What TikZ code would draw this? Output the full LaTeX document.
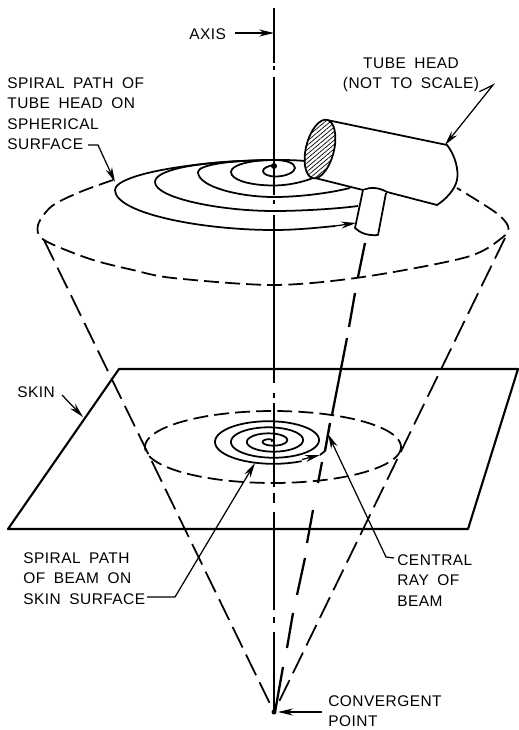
\documentclass[tikz,border=0pt]{standalone}
\usepackage{fontspec}
\setmainfont[LetterSpace=3,WordSpace=1.8]{Liberation Sans}
\usetikzlibrary{arrows.meta,patterns.meta}

\tikzset{
    callout/.style={inner sep=0pt, align=left, font=\fontsize{8.8}{11.7}\selectfont},
    leader/.style={line width=0.7pt, -{Stealth[length=8.5pt,width=4pt]}},
    outline/.style={line width=1pt, line join=round},
    sheet/.style={line width=1.2pt, line join=round},
    conedash/.style={line width=1pt, dash pattern=on 13pt off 4.5pt},
    ringdash/.style={line width=1pt, dash pattern=on 8.5pt off 3.5pt},
}

\begin{document}
\begin{tikzpicture}[x=0.02cm, y=-0.02cm]
    \useasboundingbox (0,0) rectangle (518,730);

    % Points
    \coordinate (apex) at (274,712);
    \coordinate (coneleft) at (44,240);
    \coordinate (coneright) at (505,238);
    \coordinate (skinNW) at (119,369);
    \coordinate (skinNE) at (518,369);
    \coordinate (skinSE) at (468,529);
    \coordinate (skinSW) at (8,529);

    % Axis, broken as a centre line
    \foreach \ya/\yb in {8/63, 66/70, 77/195, 200/204, 215/383, 393/398, 403/487, 493/503, 512/610, 617/623, 632/712}
        \draw[line width=1pt] (274,\ya) -- (274,\yb);

    % Skin
    \draw[sheet] (skinNW) -- (skinNE) -- (skinSE) -- (skinSW) -- cycle;

    % Cone and its two circles
    \draw[conedash] (coneleft) -- (apex);
    \draw[conedash] (coneright) -- (apex);
    \draw[ringdash] plot[smooth] coordinates {(113,180) (80,192) (52,206) (38,225) (44,240) (90,259) (133,270) (173,278) (274,285) (363,277) (467,257) (503,237) (508,226) (495,212) (457,188)};
    \draw[ringdash] plot[domain=0:360, samples=90] ({273+128*cos(\x)}, {447+36*sin(\x)});

    % Central ray
    \foreach \xa/\ya/\xb/\yb in {365/243/358/277, 355/293/349/327, 347/338/332/415, 330/423/325/451, 322/462/318/483, 313/510/307/543, 305/558/297/595, 293/613/287/648, 283/667/275/712}
        \draw[line width=1.3pt] (\xa,\ya) -- (\xb,\yb);

    % Spiral on the sphere
    \draw[outline] (274,165) .. controls (268,166) and (263,168) .. (263,171)
        .. controls (263,174) and (268,176.5) .. (276,176.5)
        .. controls (286,176.5) and (295,172) .. (295,168)
        .. controls (295,163) and (286,160) .. (274,160)
        .. controls (250,160) and (231,165) .. (231,172)
        .. controls (231,180) and (250,185.5) .. (274,185.5)
        .. controls (288,185.5) and (303,182) .. (313,178);
    \draw[outline] (305,161) .. controls (295,160) and (285,160) .. (274,160)
        .. controls (230,160) and (198,165) .. (198,172)
        .. controls (198,187) and (240,197) .. (274,197)
        .. controls (300,197) and (330,193) .. (350,188);
    \draw[outline] (240,161) .. controls (195,163) and (155,170) .. (155,182)
        .. controls (155,198) and (220,211) .. (274,211)
        .. controls (300,211) and (335,209) .. (358,206);
    \draw[outline] (274,160) .. controls (190,161) and (115,175) .. (115,190)
        .. controls (115,213) and (200,230) .. (274,230)
        .. controls (295,230) and (315,228) .. (335,226);
    \coordinate (sphereend) at (335,226);
    \coordinate (collar) at (356,223);
    \draw[leader] (sphereend) -- (collar);
    \fill (274,166) circle (3);

    % Spiral on the skin
    \draw[outline] plot[domain=0:1380, samples=200] ({271+\x/360*16*cos(\x)}, {441-\x/360*6.08*sin(\x)});
    \coordinate (skinend) at (302,459.5);
    \coordinate (skinknee) at (320,455);
    \draw[leader] (skinend) -- (skinknee);
    \draw[outline] (skinknee) -- (325,451) -- (330,423);

    % Tube head
    \draw[outline, fill=white] (327,120) -- (447,145) .. controls (455,155) and (459,170) .. (457,180)
        .. controls (455,190) and (445,200) .. (437,205) -- (387,192)
        .. controls (378,187) and (370,187) .. (363,190) -- (315,178);
    \draw[outline, fill=white] (363,190) -- (355,228) .. controls (360,233) and (368,236) .. (378,235) -- (386,193);
    \filldraw[outline, fill=white, shift={(320,149)}, rotate=-14] (0,0) ellipse (14 and 30);
    \fill[pattern={Lines[angle=40,distance=1.9pt,line width=0.4pt]}, shift={(320,149)}, rotate=-14] (0,0) ellipse (14 and 30);
    \fill (apex) circle (2.5);

    % Labels
    \node[callout, anchor=west] (axislabel) at (189,34) {AXIS};
    \node[callout, anchor=north, align=center] (tubelabel) at (411,58) {TUBE HEAD\\[-0.8pt](NOT TO SCALE)};
    \node[callout, anchor=north west] (pathlabel) at (7,77) {SPIRAL PATH OF\\TUBE HEAD ON\\SPHERICAL\\SURFACE};
    \node[callout, anchor=west] (skinlabel) at (17,392) {SKIN};
    \node[callout, anchor=north west] (beamlabel) at (23,552) {SPIRAL PATH\\OF BEAM ON\\SKIN SURFACE};
    \node[callout, anchor=north west] (raylabel) at (397,554) {CENTRAL\\RAY OF\\BEAM};
    \node[callout, anchor=north west] (pointlabel) at (328,695) {CONVERGENT\\POINT};

    % Leaders
    \coordinate (axistail) at (235,33);
    \coordinate (axistip) at (274,33);
    \draw[leader] (axistail) -- (axistip);
    \coordinate (tubebend) at (493,85);
    \coordinate (tubetip) at (445,145);
    \draw[leader] (tubelabel.south east) -- (tubebend) -- (tubetip);
    \coordinate (pathtail) at (88,145);
    \coordinate (pathbend) at (98,145);
    \coordinate (pathtip) at (115,182);
    \draw[leader] (pathtail) -- (pathbend) -- (pathtip);
    \coordinate (skintail) at (62,395);
    \coordinate (skintip) at (83,417);
    \draw[leader] (skintail) -- (skintip);
    \coordinate (beamtail) at (147,597);
    \coordinate (beambend) at (175,597);
    \coordinate (beamtip) at (255,463);
    \draw[leader] (beamtail) -- (beambend) -- (beamtip);
    \coordinate (raytail) at (394,558);
    \coordinate (raybend) at (386,557);
    \coordinate (raytip) at (328,434);
    \draw[leader] (raytail) -- (raybend) -- (raytip);
    \coordinate (pointtail) at (322,712);
    \coordinate (pointtip) at (278,712);
    \draw[leader] (pointtail) -- (pointtip);
\end{tikzpicture}
\end{document}
